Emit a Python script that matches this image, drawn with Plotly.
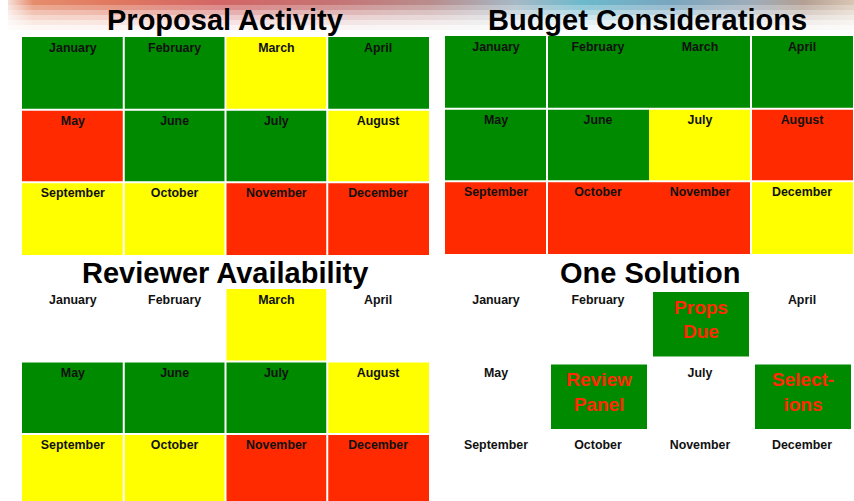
import plotly.graph_objects as go

# ---------------- data ----------------
months = ["January", "February", "March", "April",
          "May", "June", "July", "August",
          "September", "October", "November", "December"]

panel_titles = ["Proposal Activity", "Budget Considerations",
                "Reviewer Availability", "One Solution"]

# G = green, Y = yellow, R = red, W = white (no status)
proposal_status = ["G", "G", "Y", "G", "R", "G", "G", "Y", "Y", "Y", "R", "R"]
budget_status   = ["G", "G", "G", "G", "G", "G", "Y", "R", "R", "R", "R", "Y"]
reviewer_status = ["W", "W", "Y", "W", "G", "G", "G", "Y", "Y", "Y", "R", "R"]

solution_months = ["March", "June", "August"]
solution_labels = ["Props<br>Due", "Review<br>Panel", "Select-<br>ions"]

# ---------------- styling / layout ----------------
W, H = 854, 501
GREEN, YELLOW, RED, WHITE = "#008a00", "#ffff00", "#ff2a00", "#ffffff"
code = {"W": 0, "G": 1, "Y": 2, "R": 3}
cscale = [[0, WHITE], [1/6, WHITE], [1/6, GREEN], [0.5, GREEN],
          [0.5, YELLOW], [5/6, YELLOW], [5/6, RED], [1, RED]]
FONT = "Liberation Sans, Arial, sans-serif"

# panel geometry: left, top, column width, row height (pixel space)
panels = {
    "TL": dict(left=22, top=37, cw=101.75, rh=72.67),
    "TR": dict(left=445, top=36, cw=102.0, rh=72.67),
    "BL": dict(left=22, top=289, cw=101.75, rh=72.5),
    "BR": dict(left=445, top=289, cw=102.0, rh=72.5),
}

fig = go.Figure()

# decorative banner at the top (gradient photo strip)
banner_scale = [[0.0, "#f4d8d0"], [0.03, "#e07048"], [0.12, "#d85838"],
                [0.25, "#c84040"], [0.38, "#b85050"], [0.5, "#a87070"],
                [0.6, "#90a8b8"], [0.68, "#48a8c0"], [0.78, "#5890b0"],
                [0.88, "#8898a8"], [0.94, "#a08878"], [1.0, "#d0b8a0"]]
bands = [(0, 5, 0.8), (5, 10, 0.6), (10, 15, 0.42), (15, 20, 0.27),
         (20, 25, 0.15), (25, 30, 0.06)]
for y0, y1, op in bands:
    fig.add_trace(go.Scatter(
        x=[8, W, W, 8, 8], y=[y0, y0, y1, y1, y0], mode="lines",
        fill="toself", line=dict(width=0), opacity=op,
        fillgradient=dict(type="horizontal", colorscale=banner_scale),
        hoverinfo="skip", showlegend=False))

def add_grid(key, status, vlines, hlines):
    g = panels[key]
    z = [[code[s] for s in status[r*4:(r+1)*4]] for r in range(3)]
    fig.add_trace(go.Heatmap(
        z=z, x0=g["left"] + g["cw"]/2, dx=g["cw"],
        y0=g["top"] + g["rh"]/2, dy=g["rh"],
        colorscale=cscale, zmin=0, zmax=3, showscale=False,
        hoverinfo="skip"))
    bottom = g["top"] + 3*g["rh"]
    right = g["left"] + 4*g["cw"]
    for c in vlines:
        x = g["left"] + c*g["cw"]
        fig.add_shape(type="line", x0=x, x1=x, y0=g["top"], y1=bottom,
                      line=dict(color="white", width=2), layer="above")
    for r in hlines:
        y = g["top"] + r*g["rh"]
        fig.add_shape(type="line", x0=g["left"], x1=right, y0=y, y1=y,
                      line=dict(color="white", width=2), layer="above")

add_grid("TL", proposal_status, [1, 2, 3], [1, 2])
add_grid("TR", budget_status, [1, 3], [1, 2])
add_grid("BL", reviewer_status, [1, 2, 3], [1, 2])

# solution boxes
g = panels["BR"]
bx, by, bt = [], [], []
for m, lab in zip(solution_months, solution_labels):
    i = months.index(m)
    r, c = divmod(i, 4)
    x0 = g["left"] + c*g["cw"] + 4
    x1 = g["left"] + (c+1)*g["cw"] - 2
    y0 = g["top"] + r*g["rh"] + 3
    y1 = g["top"] + (r+1)*g["rh"] - 5
    fig.add_shape(type="rect", x0=x0, x1=x1, y0=y0, y1=y1,
                  fillcolor=GREEN, line=dict(width=0), layer="below")
    bx.append((x0+x1)/2); by.append((y0+y1)/2 - 3); bt.append(lab)
fig.add_trace(go.Scatter(x=bx, y=by, text=bt, mode="text",
                         textfont=dict(family=FONT, size=19, color=RED, weight="bold"),
                         hoverinfo="skip", showlegend=False))

# month labels
lx, ly, lt = [], [], []
for key in ["TL", "TR", "BL", "BR"]:
    g = panels[key]
    for i, m in enumerate(months):
        if key == "BR" and m in solution_months:
            continue
        r, c = divmod(i, 4)
        lx.append(g["left"] + (c+0.5)*g["cw"])
        ly.append(g["top"] + r*g["rh"] + 12)
        lt.append(m)
fig.add_trace(go.Scatter(x=lx, y=ly, text=lt, mode="text",
                         textfont=dict(family=FONT, size=12.4, color="#111111", weight="bold"),
                         hoverinfo="skip", showlegend=False))

# titles
title_pos = [(225, 20), (647, 20), (225, 273), (650, 273)]
for t, (x, y) in zip(panel_titles, title_pos):
    fig.add_annotation(x=x, y=y, text=t, showarrow=False,
                       font=dict(family=FONT, size=29, color="black", weight="bold"),
                       xanchor="center", yanchor="middle")

fig.update_xaxes(range=[0, W], visible=False, fixedrange=True)
fig.update_yaxes(range=[H, 0], visible=False, fixedrange=True)
fig.update_layout(width=W, height=H, margin=dict(l=0, r=0, t=0, b=0),
                  paper_bgcolor="white", plot_bgcolor="white",
                  showlegend=False)

fig.write_html("out.html", config={"displayModeBar": False})

# remove the default 8px page margin so the figure fills the window exactly
with open("out.html", "r", encoding="utf-8") as f:
    html = f.read()
html = html.replace("<head>", "<head><style>html,body{margin:0;padding:0;overflow:hidden;}</style>", 1)
with open("out.html", "w", encoding="utf-8") as f:
    f.write(html)
